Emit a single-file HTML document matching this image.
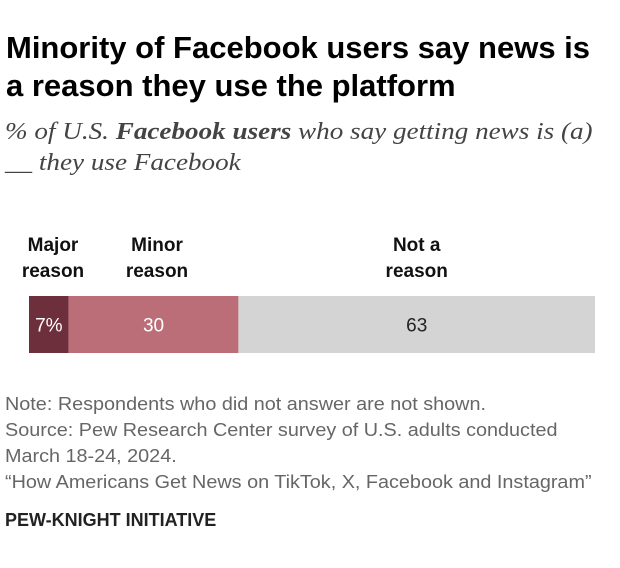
<!DOCTYPE html>
<html><head><meta charset="utf-8"><style>
body{margin:0;width:620px;height:568px;background:#fff;position:relative;overflow:hidden;font-family:"Liberation Sans",sans-serif;}
.abs{position:absolute;white-space:nowrap;}
.title{left:6px;font-weight:bold;font-size:31px;color:#000;transform:scaleX(1.0);transform-origin:left top;line-height:38px;}
.sub{left:5px;font-family:"Liberation Serif",serif;font-style:italic;font-size:24px;color:#444;line-height:31px;transform:scaleX(1.13);transform-origin:left top;}
.lab{font-weight:bold;font-size:19px;color:#111;text-align:center;line-height:26px;}
.note{left:5px;font-size:18px;color:#666;line-height:26px;transform:scaleX(1.1);transform-origin:left top;}
</style></head><body>
<div class="abs title" style="top:29px">Minority of Facebook users say news is<br>a reason they use the platform</div>
<div class="abs sub" style="top:117px">% of U.S. <b>Facebook users</b> who say getting news is (a)<br>__ they use Facebook</div>
<div id="labels"></div>
<svg class="abs" style="left:0;top:0" width="620" height="568" id="chart"></svg>
<div class="abs note" style="top:391px">Note: Respondents who did not answer are not shown.<br>Source: Pew Research Center survey of U.S. adults conducted<br>March 18-24, 2024.<br>“How Americans Get News on TikTok, X, Facebook and Instagram”</div>
<div class="abs" style="left:5px;top:510px;font-weight:bold;font-size:18px;color:#222">PEW-KNIGHT INITIATIVE</div>
<script>
const categories=["Major reason","Minor reason","Not a reason"];
const values=[7,30,63];
const printed=["7%","30","63"];
const colors=["#6d2f3b","#bb6d78","#d4d4d4"];
const textColors=["#fff","#fff","#222"];
const x0=29,x1=595,y=296,h=57;
const xs=v=>x0+(x1-x0)*v/100;
const svg=document.getElementById('chart');
const labs=document.getElementById('labels');
const headLines=[["Major","reason"],["Minor","reason"],["Not a","reason"]];
let cum=0;
values.forEach((v,i)=>{
  const a=xs(cum),b=xs(cum+v);cum+=v;
  const r=document.createElementNS("http://www.w3.org/2000/svg","rect");
  r.setAttribute('x',a);r.setAttribute('y',y);r.setAttribute('width',b-a);r.setAttribute('height',h);r.setAttribute('fill',colors[i]);
  
  
  svg.appendChild(r);
  const t=document.createElementNS("http://www.w3.org/2000/svg","text");
  t.setAttribute('x',(a+b)/2);t.setAttribute('y',y+h/2+7);t.setAttribute('text-anchor','middle');
  t.setAttribute('font-size','19');t.setAttribute('font-family','Liberation Sans, sans-serif');t.setAttribute('fill',textColors[i]);
  t.textContent=printed[i];
  
  
  svg.appendChild(t);
  const d=document.createElement('div');
  d.className='abs lab';
  let cx=(a+b)/2; if(i===0) cx=53; if(i===1) cx=157;
  d.style.left=(cx-60)+'px';d.style.width='120px';d.style.top='233px';
  d.innerHTML=headLines[i].join('<br>');
  
  
  labs.appendChild(d);
});
</script>
</body></html>
